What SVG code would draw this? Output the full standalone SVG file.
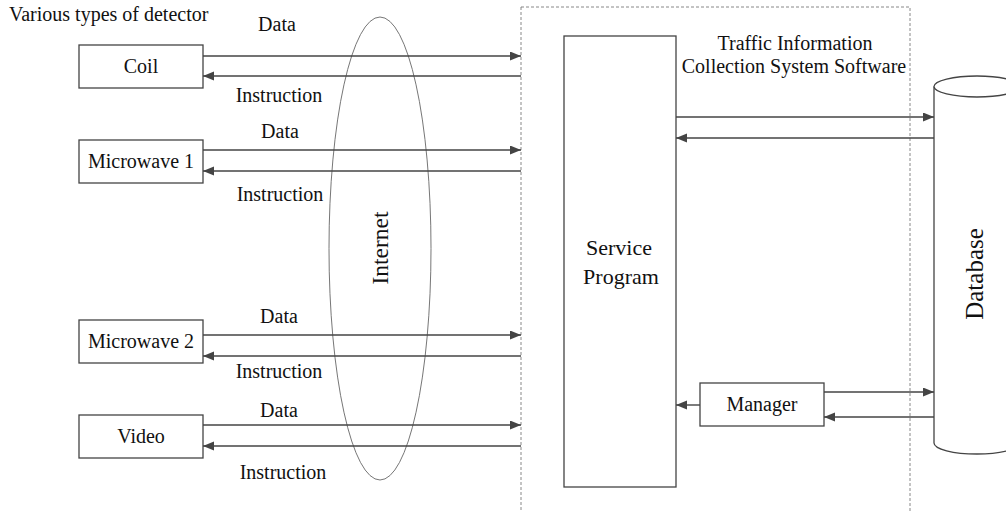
<svg xmlns="http://www.w3.org/2000/svg" width="1006" height="512" viewBox="0 0 1006 512">
<style>
text{font-family:"Liberation Serif","Times New Roman",serif;font-size:20px;fill:#111}
.c{text-anchor:middle}
.big{font-size:22px}
.box{fill:#fff;stroke:#444;stroke-width:1.3}
.ln{stroke:#444;stroke-width:1.4;fill:none}
.arr{marker-end:url(#ah)}
</style>
<defs>
<marker id="ah" markerUnits="userSpaceOnUse" markerWidth="12" markerHeight="10" refX="11" refY="4.5" orient="auto">
<path d="M0,0 L11,4.5 L0,9 z" fill="#444"/>
</marker>
</defs>
<rect width="1006" height="512" fill="#fff"/>

<g id="system-software">
<rect x="521" y="7" width="389" height="520" fill="none" stroke="#888" stroke-width="1" stroke-dasharray="3,2"/>
<text class="c" x="795" y="50">Traffic Information</text>
<text class="c" x="794" y="73">Collection System Software</text>
</g>

<g id="internet">
<ellipse cx="380" cy="248.5" rx="51" ry="231.5" fill="none" stroke="#666" stroke-width="0.9"/>
<text class="c" transform="translate(388,248) rotate(-90)" style="font-size:23.5px">Internet</text>
</g>

<g id="detectors-label"><text x="9" y="21">Various types of detector</text></g>

<g id="coil"><rect class="box" x="79" y="45" width="124" height="43"/><text class="c" x="141" y="73">Coil</text></g>
<g id="microwave1"><rect class="box" x="79" y="140" width="124" height="43"/><text class="c" x="141" y="168">Microwave 1</text></g>
<g id="microwave2"><rect class="box" x="79" y="320" width="124" height="43"/><text class="c" x="141" y="348">Microwave 2</text></g>
<g id="video"><rect class="box" x="79" y="415" width="124" height="43"/><text class="c" x="141" y="443">Video</text></g>

<g id="service-program"><rect class="box" x="564" y="36" width="112" height="451"/>
<text class="c big" x="619" y="255">Service</text><text class="c big" x="621" y="284">Program</text></g>

<g id="manager"><rect class="box" x="700" y="383" width="124" height="43"/><text class="c" x="762" y="411">Manager</text></g>

<g id="database">
<path d="M934,86.5 L934,443 A43,11 0 0 0 1020,443 L1020,86.5" fill="#fff" stroke="#444" stroke-width="1.3"/>
<ellipse cx="977" cy="86.5" rx="43" ry="10.5" fill="#fff" stroke="#444" stroke-width="1.3"/>
<text class="c" transform="translate(983,274) rotate(-90)" style="font-size:25px">Database</text>
</g>

<g id="connectors">
<line class="ln arr" x1="203" y1="56" x2="521" y2="56"/>
<line class="ln arr" x1="521" y1="76" x2="203" y2="76"/>
<line class="ln arr" x1="203" y1="150" x2="521" y2="150"/>
<line class="ln arr" x1="521" y1="171" x2="203" y2="171"/>
<line class="ln arr" x1="203" y1="335" x2="521" y2="335"/>
<line class="ln arr" x1="521" y1="356" x2="203" y2="356"/>
<line class="ln arr" x1="203" y1="425" x2="521" y2="425"/>
<line class="ln arr" x1="521" y1="446" x2="203" y2="446"/>
<line class="ln arr" x1="676" y1="117" x2="934" y2="117"/>
<line class="ln arr" x1="934" y1="138" x2="676" y2="138"/>
<line class="ln arr" x1="700" y1="405" x2="676" y2="405"/>
<line class="ln arr" x1="824" y1="392" x2="934" y2="392"/>
<line class="ln arr" x1="934" y1="417" x2="824" y2="417"/>
</g>

<g id="connector-labels">
<text class="c" x="277" y="31">Data</text>
<text class="c" x="279" y="102">Instruction</text>
<text class="c" x="280" y="138">Data</text>
<text class="c" x="280" y="201">Instruction</text>
<text class="c" x="279" y="323">Data</text>
<text class="c" x="279" y="378">Instruction</text>
<text class="c" x="279" y="417">Data</text>
<text class="c" x="283" y="479">Instruction</text>
</g>
</svg>
